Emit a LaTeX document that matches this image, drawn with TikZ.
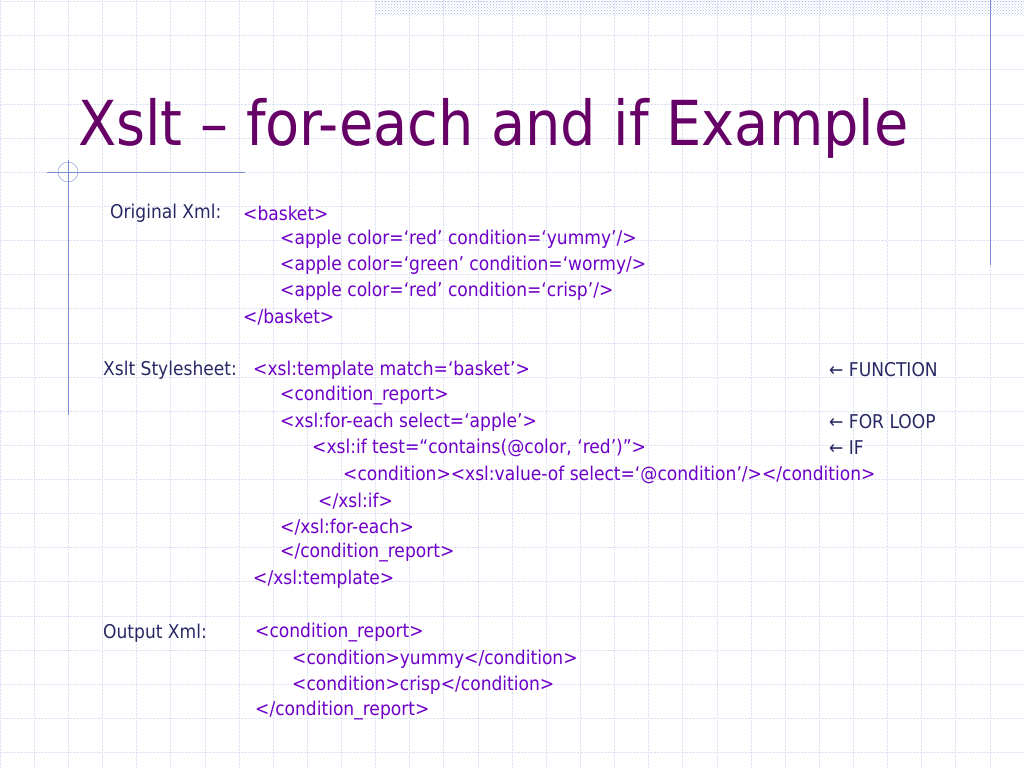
\documentclass[tikz,border=0pt]{standalone}
\usepackage{fontspec}
\setmainfont{DejaVu Sans Condensed}
\usetikzlibrary{patterns}
\definecolor{titlecol}{RGB}{102,0,102}
\definecolor{labelcol}{RGB}{40,40,100}
\definecolor{codecol}{RGB}{110,0,200}
\definecolor{gridcol}{RGB}{222,226,245}
\definecolor{rulecol}{RGB}{120,140,210}
\tikzset{
  label/.style={anchor=west, text=labelcol, font=\fontsize{19}{22}\selectfont, inner sep=0pt},
  code/.style={anchor=west, text=codecol, font=\fontsize{19}{22}\selectfont, inner sep=0pt},
}
\begin{document}
\begin{tikzpicture}[x=1pt,y=-1pt]
\useasboundingbox (0,0) rectangle (1024,768);
% background grid
\foreach \i in {0,...,30}
  \draw[gridcol, densely dotted] (\i*34.13,0) -- (\i*34.13,768);
\foreach \j in {0,...,22}
  \draw[gridcol, densely dotted] (0,1.4+\j*34.13) -- (1024,1.4+\j*34.13);
% top band
\fill[pattern=crosshatch dots, pattern color=rulecol!60] (375,0) rectangle (1024,16);
% rules
\draw[rulecol] (990,0) -- (990,265);
\draw[rulecol] (68,160) -- (68,415);
\draw[rulecol] (47,172) -- (245,172);
\draw[rulecol] (68,172) circle (10);
% title
\node[anchor=base west, text=titlecol, font=\fontsize{62}{70}\selectfont, inner sep=0pt] (title) at (78,145) {Xslt – for-each and if Example};
% original xml
\node[label] (orig) at (110,213) {Original Xml:};
\node[code] (o1) at (243,213) {<basket>};
\node[code] (o2) at (280,239) {<apple color=‘red’ condition=‘yummy’/>};
\node[code] (o3) at (280,265) {<apple color=‘green’ condition=‘wormy/>};
\node[code] (o4) at (280,291) {<apple color=‘red’ condition=‘crisp’/>};
\node[code] (o5) at (243,317) {</basket>};
% stylesheet
\node[label] (xsl) at (103,370) {Xslt Stylesheet:};
\node[code] (s1) at (253,370) {<xsl:template match=‘basket’>};
\node[code] (s2) at (280,396) {<condition\_report>};
\node[code] (s3) at (280,422) {<xsl:for-each select=‘apple’>};
\node[code] (s4) at (312,448) {<xsl:if test=“contains(@color, ‘red’)”>};
\node[code] (s5) at (343,475) {<condition><xsl:value-of select=‘@condition’/></condition>};
\node[code] (s6) at (318,501) {</xsl:if>};
\node[code] (s7) at (280,527) {</xsl:for-each>};
\node[code] (s8) at (280,553) {</condition\_report>};
\node[code] (s9) at (253,579) {</xsl:template>};
\node[label] (fn) at (829,370) {← FUNCTION};
\node[label] (loop) at (829,422) {← FOR LOOP};
\node[label] (if) at (829,448) {← IF};
% output xml
\node[label] (out) at (103,633) {Output Xml:};
\node[code] (r1) at (255,633) {<condition\_report>};
\node[code] (r2) at (292,659) {<condition>yummy</condition>};
\node[code] (r3) at (292,685) {<condition>crisp</condition>};
\node[code] (r4) at (255,711) {</condition\_report>};
\end{tikzpicture}
\end{document}
